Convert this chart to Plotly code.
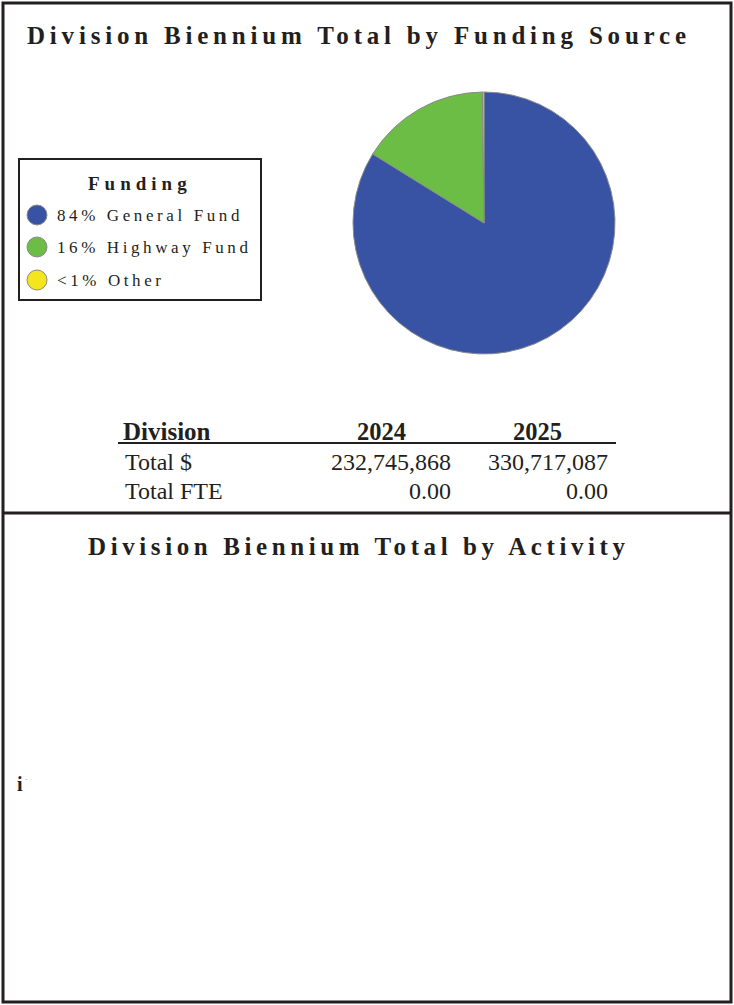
import plotly.graph_objects as go

# Funding sources (share of biennium total, %)
fund_labels = ["General Fund", "Highway Fund", "Other"]
fund_share = [84.0, 16.0, 0.2]
fund_pct_text = ["84%", "16%", "<1%"]
fund_colors = ["#3853a4", "#6bbd45", "#f4e61e"]

# Division summary table
years = ["2024", "2025"]
total_dollars = [232745868, 330717087]
total_fte = [0.00, 0.00]

W, H = 734, 1005
SERIF = "Liberation Serif"
INK = "#231f20"


def py(y):
    """Pixel row -> paper y."""
    return 1 - y / H


fig = go.Figure()

# Pie chart: clockwise from 12 o'clock
cx, cy, r = 484, 223, 131
fig.add_trace(go.Pie(
    labels=fund_labels,
    values=fund_share,
    sort=False,
    direction="clockwise",
    rotation=0,
    marker=dict(colors=fund_colors, line=dict(color="#8a8a8a", width=1)),
    textinfo="none",
    hoverinfo="label+percent",
    showlegend=False,
    domain=dict(x=[(cx - r) / W, (cx + r) / W], y=[py(cy + r), py(cy - r)]),
))

shapes = []
annotations = []

# Outer frame and section divider
shapes.append(dict(type="rect", xref="x", yref="y", x0=3, y0=3, x1=731, y1=1002,
                   line=dict(color=INK, width=3)))
shapes.append(dict(type="line", xref="x", yref="y", x0=3, y0=513, x1=731, y1=513,
                   line=dict(color=INK, width=3)))


def spaced(text, px):
    return f'<span style="letter-spacing:{px}px">{text}</span>'


# Section titles
annotations.append(dict(x=359, y=35, xref="x", yref="y", xanchor="center", yanchor="middle",
                        text="<b>" + spaced("Division Biennium Total by Funding Source", 4.8) + "</b>",
                        showarrow=False, font=dict(family=SERIF, size=25, color=INK)))
annotations.append(dict(x=359, y=546, xref="x", yref="y", xanchor="center", yanchor="middle",
                        text="<b>" + spaced("Division Biennium Total by Activity", 4.6) + "</b>",
                        showarrow=False, font=dict(family=SERIF, size=25, color=INK)))

# Legend box
shapes.append(dict(type="rect", xref="x", yref="y", x0=19, y0=159, x1=261, y1=300,
                   line=dict(color=INK, width=2), fillcolor="white"))
annotations.append(dict(x=140, y=183, xref="x", yref="y", xanchor="center", yanchor="middle",
                        text="<b>" + spaced("Funding", 5) + "</b>",
                        showarrow=False, font=dict(family=SERIF, size=19, color=INK)))
legend_rows = [215, 247, 280]
for row_y, pct, lab, col in zip(legend_rows, fund_pct_text, fund_labels, fund_colors):
    shapes.append(dict(type="circle", xref="x", yref="y", x0=27, y0=row_y - 10, x1=47, y1=row_y + 10,
                       fillcolor=col, line=dict(color="#8a8a8a", width=1)))
    annotations.append(dict(x=55, y=row_y, xref="x", yref="y", xanchor="left", yanchor="middle",
                            text=spaced(f"{pct} {lab}", 3.6),
                            showarrow=False, font=dict(family=SERIF, size=17, color=INK)))

# Summary table
annotations.append(dict(x=121, y=431, xref="x", yref="y", xanchor="left", yanchor="middle",
                        text="<b>Division</b>", showarrow=False,
                        font=dict(family=SERIF, size=25, color=INK)))
col_right = [453, 610]
col_center = [381, 537]
for xc, yr in zip(col_center, years):
    annotations.append(dict(x=xc, y=431, xref="x", yref="y", xanchor="center", yanchor="middle",
                            text=f"<b>{yr}</b>", showarrow=False,
                            font=dict(family=SERIF, size=24.5, color=INK)))
shapes.append(dict(type="line", xref="x", yref="y", x0=118, y0=443, x1=616, y1=443,
                   line=dict(color=INK, width=2)))
row_labels = ["Total $", "Total FTE"]
row_y = [462, 491]
row_vals = [[f"{v:,}" for v in total_dollars], [f"{v:.2f}" for v in total_fte]]
for ry, rl, vals in zip(row_y, row_labels, row_vals):
    annotations.append(dict(x=123, y=ry, xref="x", yref="y", xanchor="left", yanchor="middle",
                            text=rl, showarrow=False, font=dict(family=SERIF, size=24, color=INK)))
    for xr, v in zip(col_right, vals):
        annotations.append(dict(x=xr, y=ry, xref="x", yref="y", xanchor="right", yanchor="middle",
                                text=v, showarrow=False, font=dict(family=SERIF, size=24, color=INK)))

# Clipped activity label remnant
annotations.append(dict(x=15, y=784, xref="x", yref="y", xanchor="left", yanchor="middle",
                        text="<b>i</b>", showarrow=False, font=dict(family=SERIF, size=20, color=INK)))
annotations.append(dict(x=23, y=779, xref="x", yref="y", xanchor="left", yanchor="middle",
                        text="·", showarrow=False, font=dict(family=SERIF, size=8, color="#777")))

fig.update_layout(
    width=W, height=H,
    margin=dict(l=0, r=0, t=0, b=0),
    paper_bgcolor="white", plot_bgcolor="white",
    xaxis=dict(range=[0, W], visible=False, fixedrange=True),
    yaxis=dict(range=[H, 0], visible=False, fixedrange=True),
    shapes=shapes,
    annotations=annotations,
    showlegend=False,
)

fig.write_html("out.html")
